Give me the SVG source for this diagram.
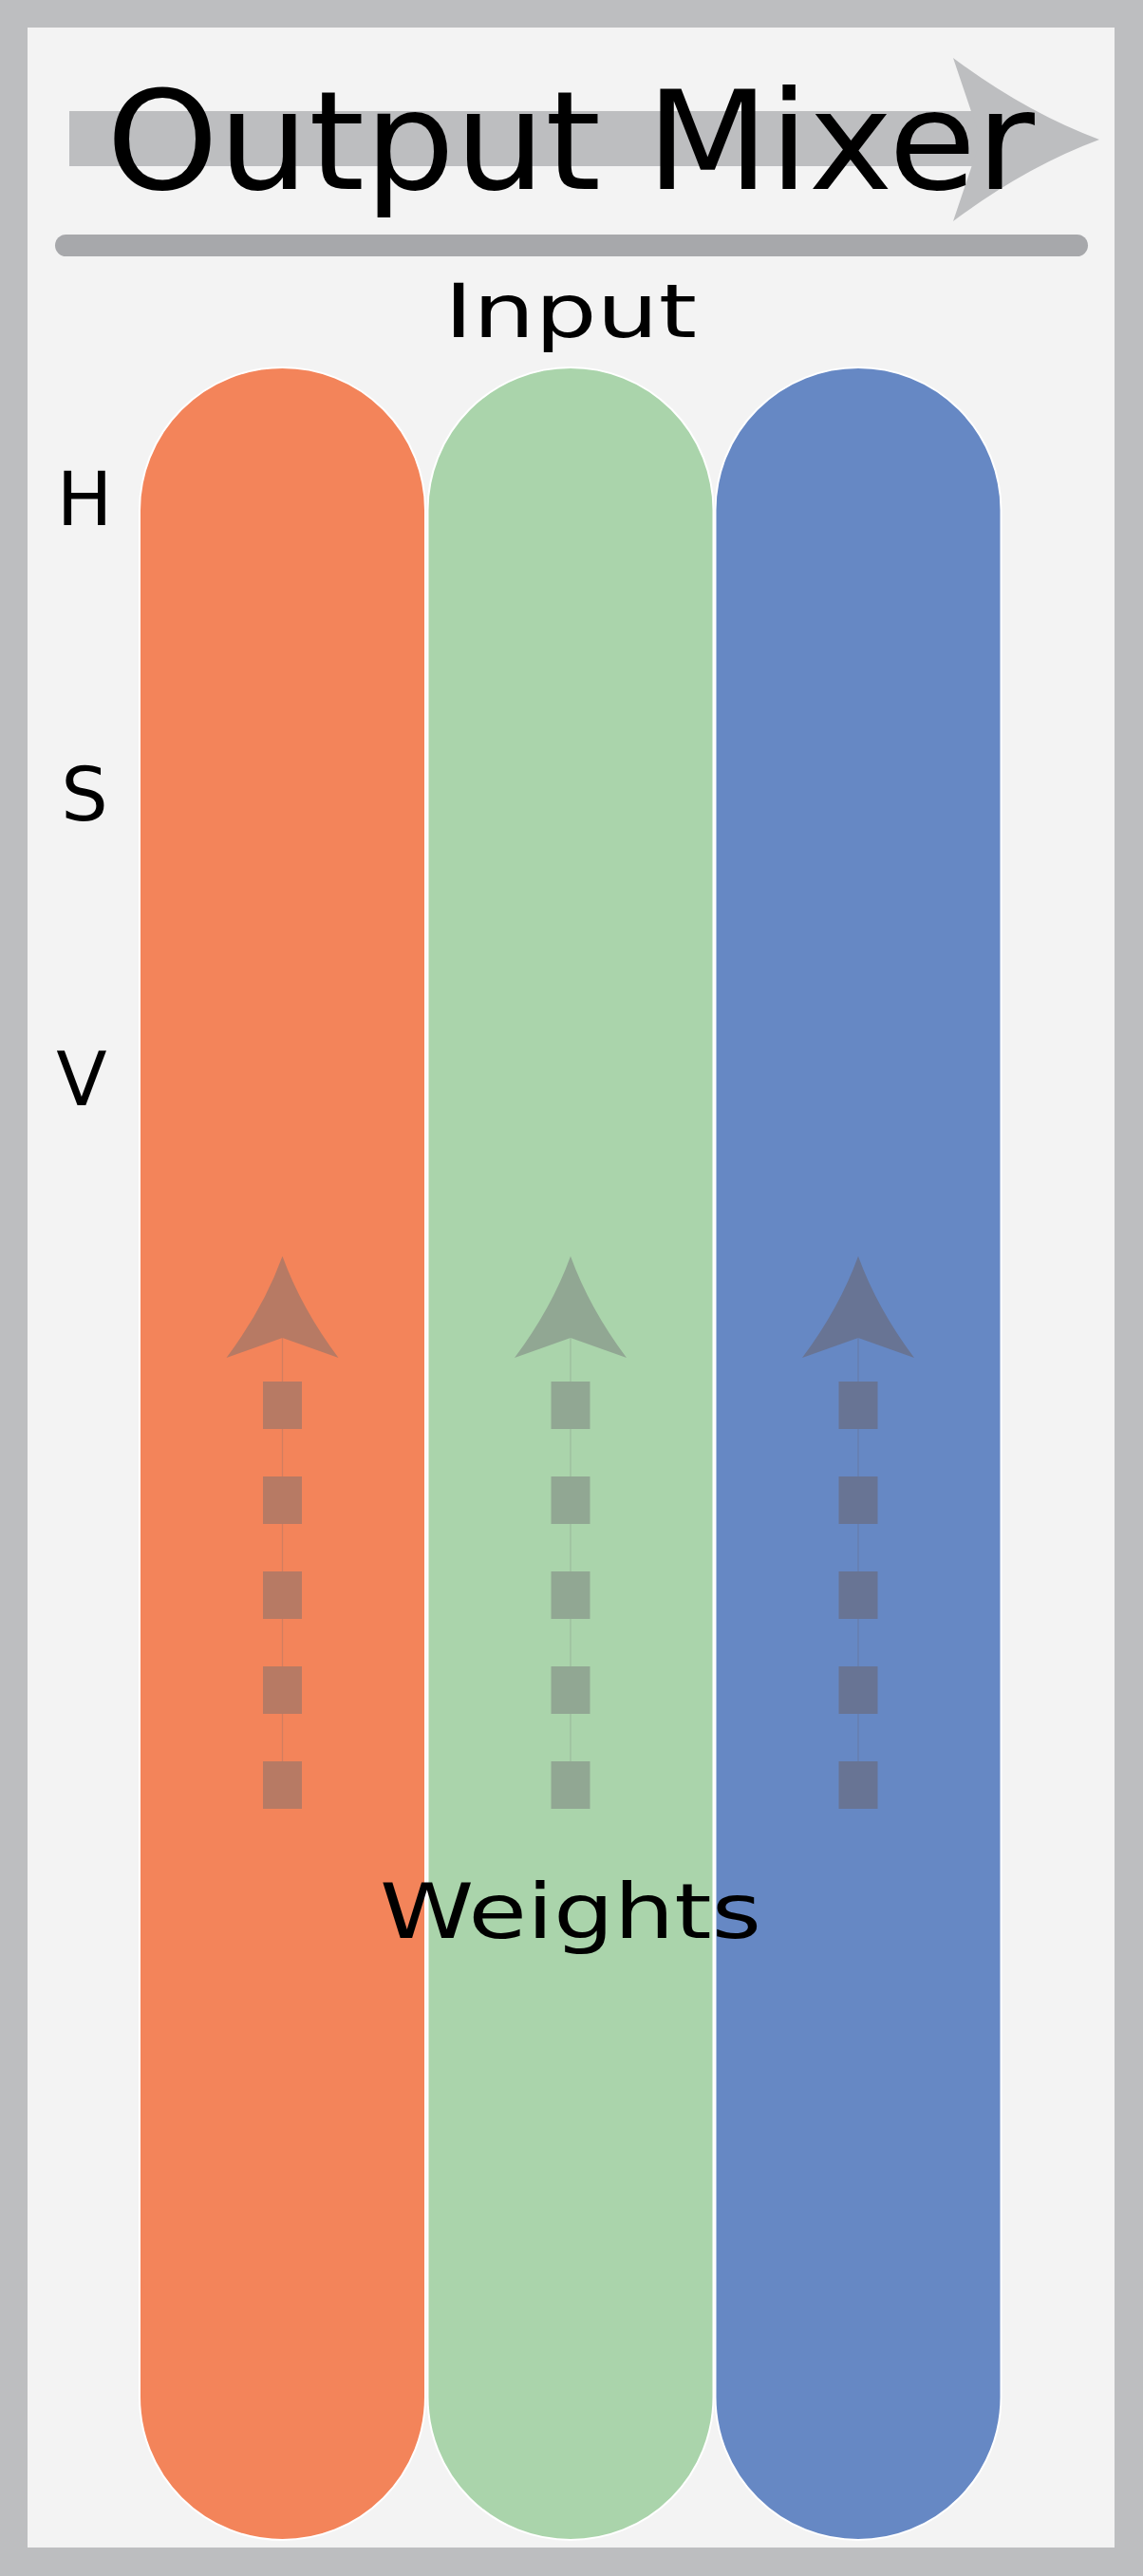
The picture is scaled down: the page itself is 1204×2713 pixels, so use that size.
<svg xmlns="http://www.w3.org/2000/svg" width="1204" height="2713" viewBox="0 0 1204 2713">
<style>
.lbl{font-family:"DejaVu Sans","Liberation Sans",sans-serif;fill:#000}
.pill{stroke:#ffffff;stroke-width:2}
.thin{stroke-width:1.2;opacity:0.55}
</style>
<defs>
<path id="ahead" d="M0,1323 Q20,1378 59,1430 L0,1409 L-59,1430 Q-20,1378 0,1323 Z"/>
</defs>
<g id="frame">
<rect x="0" y="0" width="1204" height="2713" fill="#bdbec0"/>
<rect x="29" y="29" width="1145" height="2654" fill="#f3f3f3"/>
</g>
<g id="title-arrow" fill="#bdbec0">
<rect x="73" y="117" width="960" height="58"/>
<path d="M1004,61 Q1080,118 1158,147 Q1080,176 1004,233 L1033,147 Z"/>
</g>
<g id="title">
<text class="lbl" x="112" y="199" font-size="145" textLength="978" lengthAdjust="spacingAndGlyphs">Output Mixer</text>
</g>
<g id="separator">
<rect x="58" y="247" width="1088" height="23" rx="11.5" fill="#a7a8ab"/>
</g>
<g id="input-label">
<text class="lbl" x="468" y="355" font-size="78" textLength="266" lengthAdjust="spacingAndGlyphs">Input</text>
</g>
<g id="hsv-labels">
<text class="lbl" x="89" y="553" font-size="78" text-anchor="middle">H</text>
<text class="lbl" x="89" y="864" font-size="78" text-anchor="middle">S</text>
<text class="lbl" x="86" y="1164" font-size="78" text-anchor="middle">V</text>
</g>
<g id="channel-red">
<rect class="pill" x="147" y="387" width="301" height="2288" rx="150.5" ry="150.5" fill="#f3845a"/>
</g>
<g id="channel-green">
<rect class="pill" x="450.5" y="387" width="301" height="2288" rx="150.5" ry="150.5" fill="#aad4ab"/>
</g>
<g id="channel-blue">
<rect class="pill" x="753.5" y="387" width="301" height="2288" rx="150.5" ry="150.5" fill="#6688c4"/>
</g>
<g id="connectors">
<g id="weight-arrow-red" fill="#b77a64" stroke="#b77a64">
<line class="thin" x1="297.5" y1="1409" x2="297.5" y2="1905"/>
<line x1="297.5" y1="1905" x2="297.5" y2="1455" stroke-width="41" stroke-dasharray="50 50"/>
<use href="#ahead" transform="translate(297.5,0)" stroke="none"/>
</g>
<g id="weight-arrow-green" fill="#91a793" stroke="#91a793">
<line class="thin" x1="601" y1="1409" x2="601" y2="1905"/>
<line x1="601" y1="1905" x2="601" y2="1455" stroke-width="41" stroke-dasharray="50 50"/>
<use href="#ahead" transform="translate(601,0)" stroke="none"/>
</g>
<g id="weight-arrow-blue" fill="#687494" stroke="#687494">
<line class="thin" x1="904" y1="1409" x2="904" y2="1905"/>
<line x1="904" y1="1905" x2="904" y2="1455" stroke-width="41" stroke-dasharray="50 50"/>
<use href="#ahead" transform="translate(904,0)" stroke="none"/>
</g>
</g>
<g id="weights-label">
<text class="lbl" x="400" y="2041" font-size="80" textLength="402" lengthAdjust="spacingAndGlyphs">Weights</text>
</g>
</svg>
